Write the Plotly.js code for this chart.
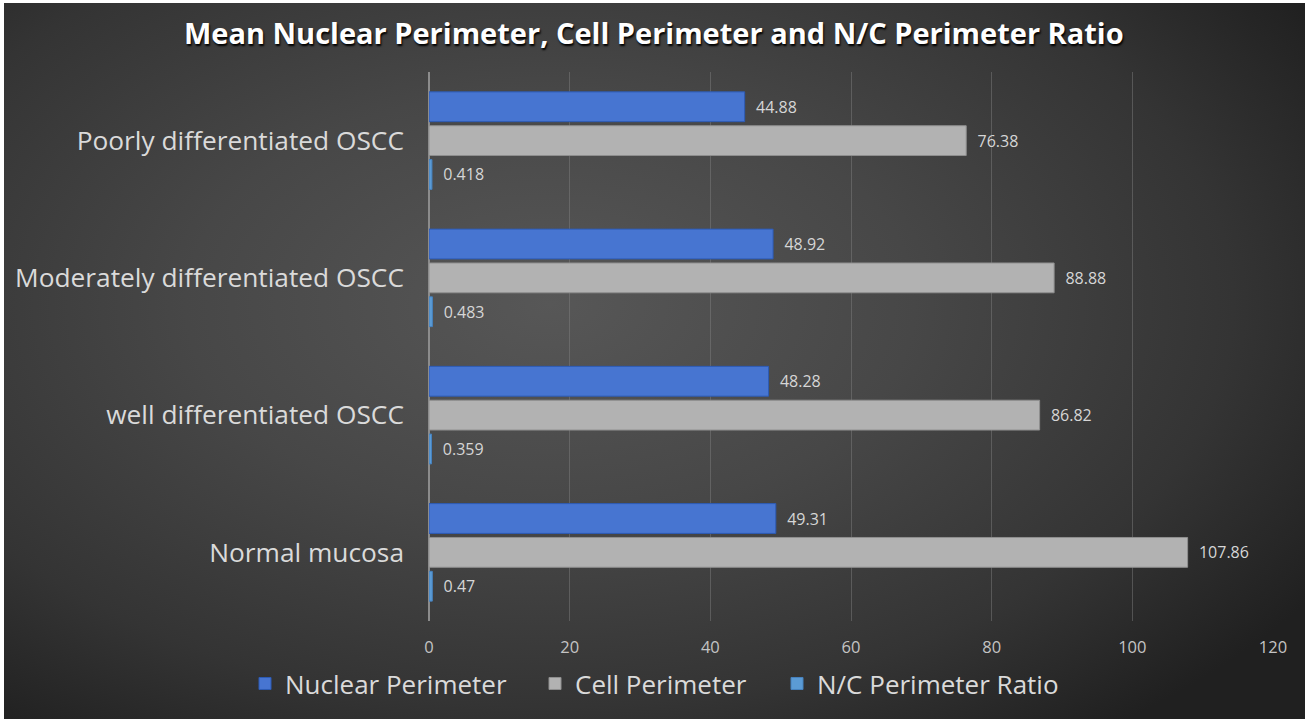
<!DOCTYPE html>
<html>
<head>
<meta charset="utf-8">
<script src="https://cdn.plot.ly/plotly-3.0.1.min.js"></script>
<style>
  html, body { margin: 0; padding: 0; width: 1305px; height: 719px; overflow: hidden; background: #ffffff; }
  #bg { position: absolute; left: 4px; top: 3px; width: 1301px; height: 716px;
        background: radial-gradient(ellipse 70% 75% at 42% 42%, #575757 0%, #474747 40%, #343434 75%, #202020 100%); }
  #chart { position: absolute; left: 0; top: 0; width: 1305px; height: 719px; }
</style>
</head>
<body>
<div id="bg"></div>
<div id="chart"></div>
<script>
const categories = ["Poorly differentiated OSCC", "Moderately differentiated OSCC", "well differentiated OSCC", "Normal mucosa"];
const nuclearPerimeter = [44.88, 48.92, 48.28, 49.31];
const cellPerimeter = [76.38, 88.88, 86.82, 107.86];
const ncPerimeterRatio = [0.418, 0.483, 0.359, 0.47];
const seriesNames = ["Nuclear Perimeter", "Cell Perimeter", "N/C Perimeter Ratio"];
const xTicks = [0, 20, 40, 60, 80, 100, 120];

const colors = ["#4775d1", "#b2b2b2", "#5b9bd5"];
const lineColors = ["#2d5bb5", "#8f8f8f", "#4682bf"];
const legendWidths = [245, 197, 245];
const seriesValues = [nuclearPerimeter, cellPerimeter, ncPerimeterRatio];

const traces = seriesValues.map((vals, i) => ({
  type: "bar",
  orientation: "h",
  name: seriesNames[i],
  legendwidth: legendWidths[i],
  y: categories,
  x: vals,
  text: vals.map(v => String(v)),
  texttemplate: "\u00a0\u00a0%{text}",
  textposition: "outside",
  cliponaxis: false,
  textfont: { family: "Open Sans, sans-serif", size: 16, color: "#d6d6d6" },
  marker: { color: colors[i], line: { color: lineColors[i], width: 1 } },
  hoverinfo: "x+name"
}));

const layout = {
  width: 1305,
  height: 719,
  paper_bgcolor: "rgba(0,0,0,0)",
  plot_bgcolor: "rgba(0,0,0,0)",
  margin: { l: 429, r: 32, t: 72, b: 93 },
  title: {
    text: "<b>Mean Nuclear Perimeter, Cell Perimeter and N/C Perimeter Ratio</b>",
    x: 0.501,
    xanchor: "center",
    y: 0.953,
    yanchor: "middle",
    font: { family: "Open Sans, sans-serif", size: 29, color: "#ffffff", shadow: "1px 2px 2px #000000" }
  },
  barmode: "group",
  bargap: 0.26,
  bargroupgap: 0.12,
  xaxis: {
    range: [0, 120],
    tickvals: xTicks,
    ticktext: xTicks.map(String),
    showgrid: true,
    gridcolor: "rgba(130,130,130,0.45)",
    gridwidth: 1,
    zeroline: true,
    zerolinecolor: "#8c8c8c",
    zerolinewidth: 1.5,
    showline: false,
    ticks: "",
    ticklabelstandoff: 14,
    tickfont: { family: "Open Sans, sans-serif", size: 16.5, color: "#c4c4c4" },
    fixedrange: true
  },
  yaxis: {
    type: "category",
    categoryorder: "array",
    categoryarray: categories,
    autorange: "reversed",
    showgrid: false,
    zeroline: false,
    showline: false,
    ticks: "",
    ticklabelstandoff: 24,
    tickfont: { family: "Open Sans, sans-serif", size: 26.3, color: "#dadada" },
    fixedrange: true
  },
  showlegend: true,
  legend: {
    orientation: "h",
    x: (245 - 429) / 844,
    xanchor: "left",
    y: -0.114,
    yanchor: "middle",
    font: { family: "Open Sans, sans-serif", size: 26, color: "#dadada" },
    bgcolor: "rgba(0,0,0,0)",
    itemclick: false,
    itemdoubleclick: false
  }
};

Plotly.newPlot("chart", traces, layout, { displayModeBar: false, staticPlot: true });
</script>
</body>
</html>
